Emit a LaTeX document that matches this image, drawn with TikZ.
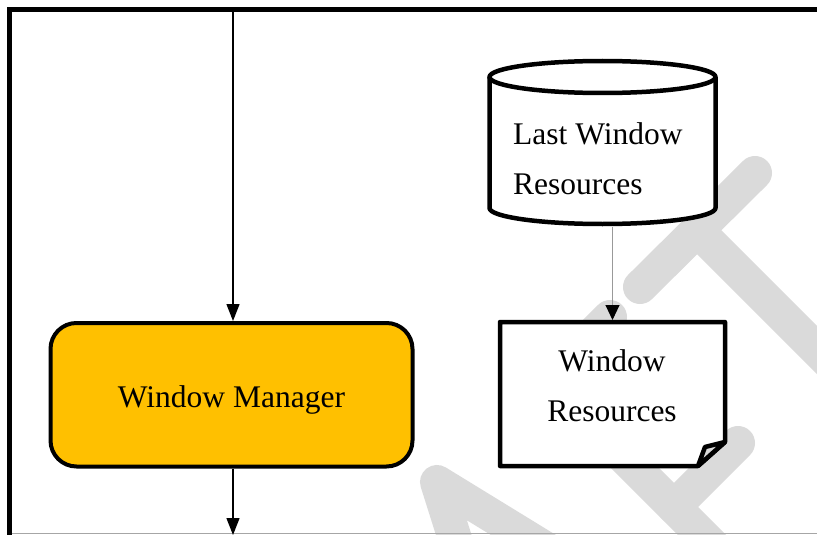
\documentclass[tikz,border=0pt]{standalone}
\usepackage{fontspec}
\setmainfont{Liberation Serif}
\usetikzlibrary{arrows.meta}
\definecolor{wmgold}{RGB}{255,192,0}
\definecolor{wmgray}{RGB}{218,218,218}

\begin{document}
\begin{tikzpicture}[x=1pt, y=-1pt,
  shapebox/.style={draw=none, inner sep=0pt, outer sep=2pt},
  outline/.style={line width=4.5pt, line join=round},
  lbl/.style={inner sep=0pt, font=\fontsize{31.5}{50}\selectfont},
  flow/.style={line width=1.4pt, -{Triangle[length=17pt,width=13pt]}},
  feed/.style={line width=1pt, draw=black!40, -{Triangle[length=15pt,width=14pt,color=black]}},
  wmstroke/.style={draw=wmgray, line width=34pt, line cap=round, line join=round}]
  \useasboundingbox (0,0) rectangle (817,535);

  \begin{scope}
    \clip (0,0) rectangle (817,535);
    \draw[wmstroke] (497,672) -- (437,482) -- (693,639);
    \draw[wmstroke] (610,317) -- (547,380) -- (830,663);
    \draw[wmstroke] (674,507) -- (738,443);
    \draw[wmstroke] (640,287) -- (755,173);
    \draw[wmstroke] (697,230) -- (980,513);
  \end{scope}

  \draw[line width=5pt] (9.5,545) -- (9.5,9.5) -- (830,9.5);
  \draw[black!35, line width=1pt] (12,533.5) -- (817,533.5);

  \coordinate (top) at (233,9.5);
  \coordinate (wmout) at (233,535);

  \node[draw, fill=wmgold, line width=4pt, rounded corners=26pt, minimum width=362pt,
    minimum height=143.5pt, inner sep=0pt, text height=30pt, text depth=5pt,
    font=\fontsize{31.5}{50}\selectfont] (wm) at (231.5,394.75) {Window Manager};

  \node[shapebox, minimum width=226pt, minimum height=163pt] (lastres) at (602.5,143) {};
  \filldraw[outline, fill=white] (489.5,77) -- (489.5,208)
    arc[start angle=180, end angle=360, x radius=113pt, y radius=16pt] -- (715.5,77);
  \filldraw[outline, fill=white] (602.5,77) ellipse [x radius=113pt, y radius=16pt];
  \node[lbl, anchor=north west, align=left] (lastlbl) at (513,122.5) {Last Window\\Resources};

  \node[shapebox, minimum width=225pt, minimum height=144pt] (winres) at (612.5,394) {};
  \filldraw[outline, fill=white] (500,322) -- (725,322) -- (725,442) -- (698,466) -- (500,466) -- cycle;
  \filldraw[outline, fill=black!15] (698,466) -- (705,447) -- (725,442) -- cycle;
  \node[lbl, anchor=north, align=center] (winlbl) at (612,349.5) {Window\\Resources};

  \draw[flow] (top) -- (top |- wm.north);
  \draw[flow] (top |- wm.south) -- (wmout);
  \draw[feed] (lastres.south -| winres.north) -- (winres.north);
\end{tikzpicture}
\end{document}
